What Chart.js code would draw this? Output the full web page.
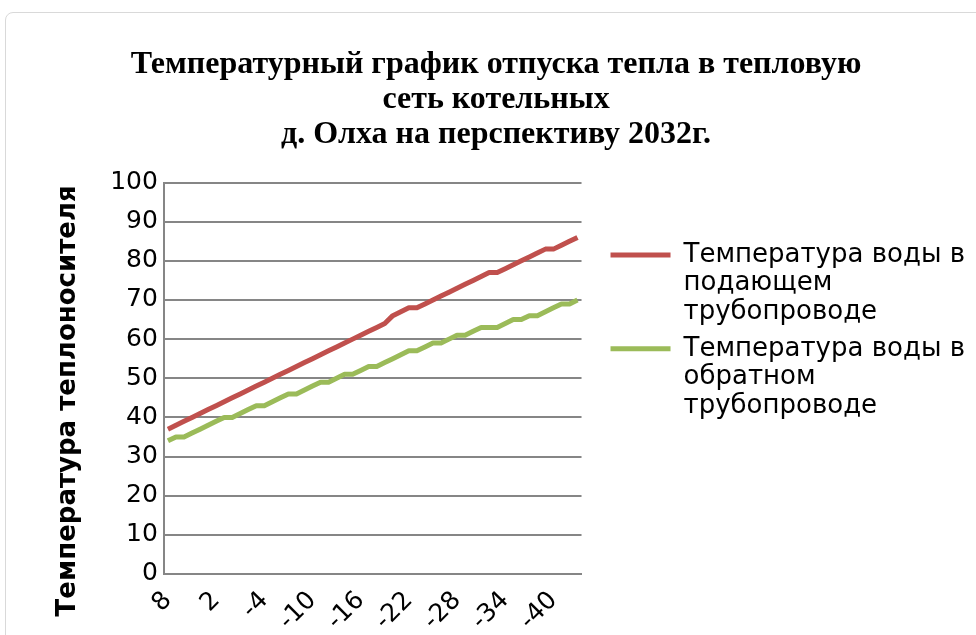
<!DOCTYPE html>
<html>
<head>
<meta charset="utf-8">
<script src="https://cdn.jsdelivr.net/npm/chart.js@4/dist/chart.umd.min.js"></script>
<style>
  html, body { margin: 0; padding: 0; background: #fff; overflow: hidden; }
  #frame {
    position: absolute; left: 5px; top: 12px; width: 1100px; height: 800px;
    border: 1px solid #d9d9d9; border-radius: 8px;
  }
  #wrap { position: absolute; left: 0; top: 0; width: 992px; height: 635px; }
</style>
</head>
<body>
<div id="frame"></div>
<div id="wrap"><canvas id="chart" width="992" height="635"></canvas></div>
<script>
;(() => {
  'use strict';

  // outdoor temperature, from +8 down to -43
  const outdoorTemps = [
    8, 7, 6, 5, 4, 3, 2, 1, 0, -1, -2, -3, -4, -5, -6, -7, -8, -9, -10, -11,
    -12, -13, -14, -15, -16, -17, -18, -19, -20, -21, -22, -23, -24, -25, -26,
    -27, -28, -29, -30, -31, -32, -33, -34, -35, -36, -37, -38, -39, -40, -41,
    -42, -43
  ];

  // supply pipe
  const supplyTemps = [
    37, 38, 39, 40, 41, 42, 43, 44, 45, 46, 47, 48, 49, 50, 51, 52, 53, 54, 55, 56,
    57, 58, 59, 60, 61, 62, 63, 64, 66, 67, 68, 68, 69, 70, 71, 72, 73, 74, 75,
    76, 77, 77, 78, 79, 80, 81, 82, 83, 83, 84, 85, 86
  ];

  // return pipe
  const returnTemps = [
    34, 35, 35, 36, 37, 38, 39, 40, 40, 41, 42, 43, 43, 44, 45, 46, 46, 47, 48, 49,
    49, 50, 51, 51, 52, 53, 53, 54, 55, 56, 57, 57, 58, 59, 59, 60, 61, 61, 62,
    63, 63, 63, 64, 65, 65, 66, 66, 67, 68, 69, 69, 70
  ];

  const seriesNames = [
    'Температура воды в подающем трубопроводе',
    'Температура воды в обратном трубопроводе'
  ];
  const legendLines = [
    ['Температура воды в', 'подающем', 'трубопроводе'],
    ['Температура воды в', 'обратном', 'трубопроводе']
  ];
  const seriesColors = ['#c0504d', '#9bbb59'];

  const titleLines = [
    'Температурный график отпуска тепла в тепловую',
    'сеть котельных',
    'д. Олха на перспективу 2032г.'
  ];
  const yTitle = 'Температура теплоносителя     ';

  const labelStep = 6;

  const ctx = document.getElementById('chart').getContext('2d');

  new Chart(ctx, {
    type: 'line',
    data: {
      labels: outdoorTemps,
      datasets: [supplyTemps, returnTemps].map((data, i) => ({
        label: seriesNames[i],
        data,
        borderColor: seriesColors[i],
        backgroundColor: seriesColors[i],
        borderWidth: 5,
        pointRadius: 0,
        tension: 0,
        borderJoinStyle: 'round'
      }))
    },
    options: {
      responsive: false,
      devicePixelRatio: 1,
      animation: false,
      layout: { padding: { left: 17, right: 17, top: 0, bottom: -5 } },
      plugins: {
        title: {
          display: true,
          text: titleLines,
          color: '#000',
          font: { family: 'Liberation Serif', size: 32, weight: 'bold', lineHeight: 1.1 },
          padding: { top: 47, bottom: 30 }
        },
        legend: {
          position: 'right',
          align: 'start',
          maxWidth: 600,
          title: {
            display: true,
            text: '',
            font: { size: 10, lineHeight: 1 },
            padding: { top: 224, bottom: 0 }
          },
          labels: {
            color: '#000',
            font: { family: 'DejaVu Sans', size: 26, lineHeight: 1.1 },
            boxWidth: 60,
            boxHeight: 5,
            padding: 8,
            generateLabels: chart => chart.data.datasets.map((ds, i) => ({
              text: legendLines[i],
              fillStyle: ds.borderColor,
              strokeStyle: ds.borderColor,
              fontColor: '#000',
              lineWidth: 0,
              datasetIndex: i
            }))
          }
        },
        tooltip: { enabled: false }
      },
      scales: {
        x: {
          offset: true,
          grid: { display: false },
          border: { display: true, color: '#868686', width: 2 },
          ticks: {
            autoSkip: false,
            minRotation: 45,
            maxRotation: 45,
            color: '#000',
            font: { family: 'DejaVu Sans', size: 25 },
            padding: 4,
            callback: function (value, index) {
              return index % labelStep === 0 ? this.getLabelForValue(value) : '';
            }
          }
        },
        y: {
          min: 0,
          max: 100,
          ticks: {
            stepSize: 10,
            color: '#000',
            font: { family: 'DejaVu Sans', size: 25 },
            padding: 6
          },
          grid: { color: '#868686', lineWidth: 2, drawTicks: false },
          border: { display: true, color: '#868686', width: 2 },
          title: {
            display: true,
            text: yTitle,
            color: '#000',
            font: { family: 'DejaVu Sans', size: 26, weight: 'bold' },
            padding: { top: 36, bottom: 20 }
          }
        },
        // empty right axis, only keeps the gap between plot and legend
        gap: {
          type: 'linear',
          position: 'right',
          display: true,
          grid: { display: false },
          border: { display: false },
          ticks: { display: false },
          afterFit: scale => { scale.width = 21; }
        }
      }
    }
  });
})();
</script>
</body>
</html>
